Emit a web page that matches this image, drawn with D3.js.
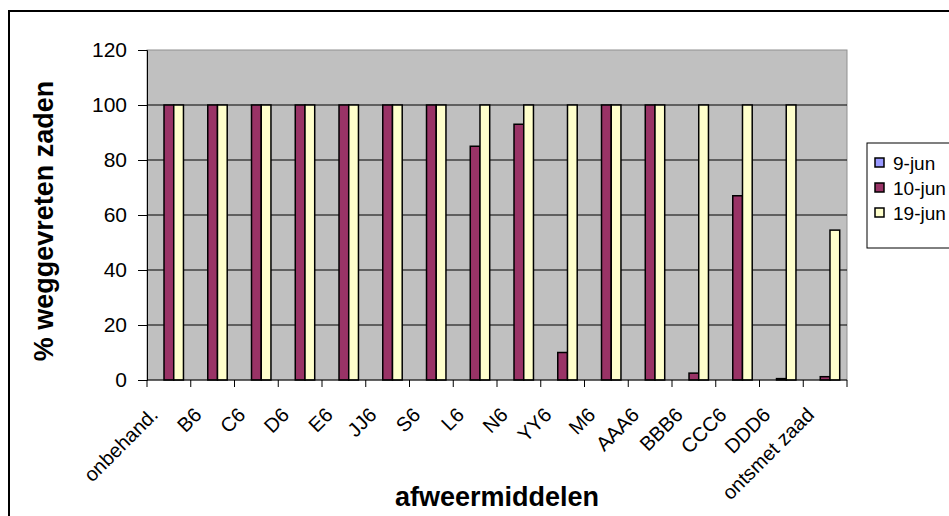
<!DOCTYPE html>
<html>
<head>
<meta charset="utf-8">
<script src="https://cdn.jsdelivr.net/npm/d3@7"></script>
<style>
  body { margin: 0; background: #fff; }
  svg { display: block; }
</style>
</head>
<body>
<script>
const categories = ["onbehand.", "B6", "C6", "D6", "E6", "JJ6", "S6", "L6", "N6", "YY6", "M6", "AAA6", "BBB6", "CCC6", "DDD6", "ontsmet zaad"];
const seriesNames = ["9-jun", "10-jun", "19-jun"];
const jun9 = [0, 0, 0, 0, 0, 0, 0, 0, 0, 0, 0, 0, 0, 0, 0, 0];
const jun10 = [100, 100, 100, 100, 100, 100, 100, 85, 93, 10, 100, 100, 2.5, 67, 0.5, 1.2];
const jun19 = [100, 100, 100, 100, 100, 100, 100, 100, 100, 100, 100, 100, 100, 100, 100, 54.5];
const yTicks = [0, 20, 40, 60, 80, 100, 120];
const colors = ["#9999ff", "#993366", "#ffffcc"];

const W = 949, H = 516;
const plot = { left: 147, top: 50, right: 847, bottom: 380 };
const font = "Arial, 'Liberation Sans', sans-serif";

const series = [jun9, jun10, jun19];

const svg = d3.select("body").append("svg").attr("width", W).attr("height", H);

// outer chart frame (runs off the right and bottom edges)
svg.append("rect")
  .attr("x", 9).attr("y", 11)
  .attr("width", W + 10).attr("height", H + 10)
  .attr("fill", "#fff").attr("stroke", "#000").attr("stroke-width", 2);

const x = d3.scaleBand().domain(categories).range([plot.left, plot.right]);
const y = d3.scaleLinear().domain([0, 120]).range([plot.bottom, plot.top]);

// Excel style: gap width 150% => band = 3 bars + 1.5 bar
const barW = x.bandwidth() / 4.5;
const inner = d3.scaleBand().domain(seriesNames).range([0, barW * 3]);

svg.append("rect")
  .attr("x", plot.left).attr("y", plot.top)
  .attr("width", plot.right - plot.left).attr("height", plot.bottom - plot.top)
  .attr("fill", "#c0c0c0").attr("stroke", "#909090").attr("stroke-width", 1);

// gridlines
svg.append("g").selectAll("line")
  .data(yTicks.slice(1, -1))
  .enter().append("line")
  .attr("x1", plot.left).attr("x2", plot.right)
  .attr("y1", d => y(d)).attr("y2", d => y(d))
  .attr("stroke", "#000").attr("stroke-width", 1);

// bars
const groups = svg.append("g").selectAll("g")
  .data(categories)
  .enter().append("g")
  .attr("transform", d => `translate(${x(d) + barW * 0.75} 0)`);

groups.selectAll("rect")
  .data((d, i) => series.map((s, k) => ({ name: seriesNames[k], value: s[i], k })))
  .enter().append("rect")
  .attr("x", d => inner(d.name))
  .attr("width", inner.bandwidth())
  .attr("y", d => y(d.value))
  .attr("height", d => y(0) - y(d.value))
  .attr("fill", d => colors[d.k])
  .attr("stroke", "#000").attr("stroke-width", 1.5)
  .attr("display", d => d.value === 0 ? "none" : null);

// y axis
const yAxis = d3.axisLeft(y).tickValues(yTicks).tickSize(9).tickPadding(11);
const gy = svg.append("g").attr("transform", `translate(${plot.left} 0)`).call(yAxis);
gy.selectAll("text").attr("font-family", font).attr("font-size", 21).attr("fill", "#000");
gy.selectAll("line").attr("stroke", "#000");
gy.select(".domain").attr("stroke", "#000");

// x axis: ticks at category boundaries
const bounds = categories.map(c => x(c)).concat([plot.right]);
const gx = svg.append("g");
gx.append("line")
  .attr("x1", plot.left).attr("x2", plot.right)
  .attr("y1", plot.bottom).attr("y2", plot.bottom)
  .attr("stroke", "#000");
gx.selectAll("line.tick")
  .data(bounds)
  .enter().append("line")
  .attr("class", "tick")
  .attr("x1", d => d).attr("x2", d => d)
  .attr("y1", plot.bottom).attr("y2", plot.bottom + 7)
  .attr("stroke", "#000");

gx.selectAll("text")
  .data(categories)
  .enter().append("text")
  .attr("transform", d => `translate(${x(d) + x.bandwidth() / 2 - 20} ${plot.bottom + 26}) rotate(-45)`)
  .attr("text-anchor", "end")
  .attr("dy", "0.72em")
  .attr("font-family", font).attr("font-size", 20)
  .text(d => d);

// axis titles
svg.append("text")
  .attr("x", (plot.left + plot.right) / 2).attr("y", 506)
  .attr("text-anchor", "middle")
  .attr("font-family", font).attr("font-size", 27).attr("font-weight", "bold")
  .text("afweermiddelen");

svg.append("text")
  .attr("transform", "translate(53 221) rotate(-90)")
  .attr("text-anchor", "middle")
  .attr("font-family", font).attr("font-size", 27).attr("font-weight", "bold")
  .text("% weggevreten zaden");

// legend
const legend = svg.append("g").attr("transform", "translate(867 143)");
legend.append("rect")
  .attr("width", 100).attr("height", 105)
  .attr("fill", "#fff").attr("stroke", "#000").attr("stroke-width", 1);
const items = legend.selectAll("g.item")
  .data(seriesNames)
  .enter().append("g")
  .attr("class", "item")
  .attr("transform", (d, i) => `translate(8 ${19 + i * 25})`);
items.append("rect")
  .attr("x", 0).attr("y", -4)
  .attr("width", 9).attr("height", 9)
  .attr("fill", (d, i) => colors[i])
  .attr("stroke", "#000").attr("stroke-width", 1.5);
items.append("text")
  .attr("x", 18).attr("y", 1)
  .attr("dy", "0.35em")
  .attr("font-family", font).attr("font-size", 19)
  .text(d => d);
</script>
</body>
</html>
